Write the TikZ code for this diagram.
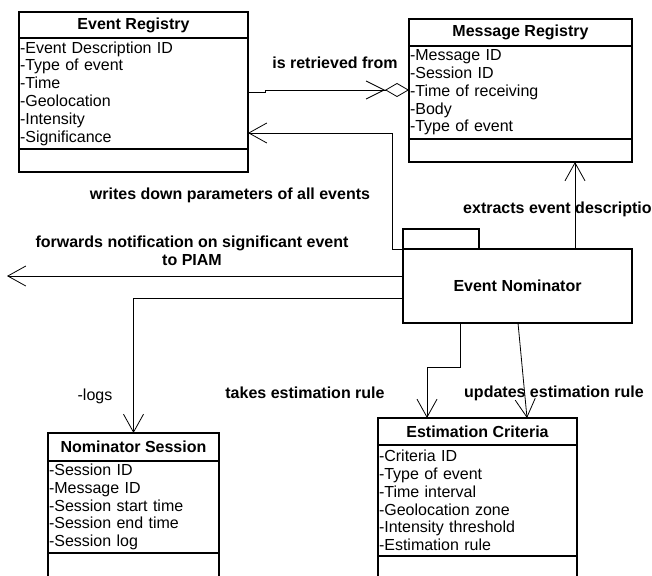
\documentclass[tikz,border=0pt]{standalone}
\usepackage{fontspec}
\setmainfont{Liberation Sans}
\usetikzlibrary{arrows.meta}

\tikzset{
	classhead/.style={draw, line width=1.2pt, anchor=north west, inner sep=0pt, outer sep=0pt, font=\fontsize{16}{17.8}\selectfont\bfseries},
	classbody/.style={draw, line width=1.2pt, anchor=north west, inner xsep=1pt, inner ysep=0pt, outer sep=0pt, align=left, font=\fontsize{16}{17.8}\selectfont},
	assoc/.style={line width=0.8pt, -{Straight Barb[length=18pt, width=20pt]}},
	lbl/.style={font=\fontsize{16}{17.8}\selectfont\bfseries, inner sep=0pt}
}

\begin{document}
\begin{tikzpicture}[x=1pt, y=-1pt]
		\clip (0,0) rectangle (652,575);

		% registries
		\node (erHead)[classhead, minimum width=229pt, minimum height=26pt] at (19,12) {Event Registry};
		\node (erAttr)[classbody, text width=227pt, minimum height=111pt] at (erHead.south west) {-Event Description ID\\-Type of event\\-Time\\-Geolocation\\-Intensity\\-Significance};
		\node (erOps)[classbody, minimum width=229pt, minimum height=23pt] at (erAttr.south west) {};

		\node (mrHead)[classhead, minimum width=223pt, minimum height=27pt] at (409,19) {Message Registry};
		\node (mrAttr)[classbody, text width=221pt, minimum height=93pt] at (mrHead.south west) {-Message ID\\-Session ID\\-Time of receiving\\-Body\\-Type of event};
		\node (mrOps)[classbody, minimum width=223pt, minimum height=23pt] at (mrAttr.south west) {};

		% nominator
		\node (enBox)[classhead, minimum width=229pt, minimum height=74pt, anchor=center] at (517.5,286) {Event Nominator};
		\node (enTab)[classhead, minimum width=76pt, minimum height=20pt, anchor=south west] at (enBox.north west) {};

		\node (nsHead)[classhead, minimum width=171pt, minimum height=28pt] at (48,433) {Nominator Session};
		\node (nsAttr)[classbody, text width=169pt, minimum height=92pt] at (nsHead.south west) {-Session ID\\-Message ID\\-Session start time\\-Session end time\\-Session log};
		\node (nsOps)[classbody, minimum width=171pt, minimum height=30pt] at (nsAttr.south west) {};

		\node (ecHead)[classhead, minimum width=199pt, minimum height=27pt] at (378,418) {Estimation Criteria};
		\node (ecAttr)[classbody, text width=197pt, minimum height=111pt] at (ecHead.south west) {-Criteria ID\\-Type of event\\-Time interval\\-Geolocation zone\\-Intensity threshold\\-Estimation rule};
		\node (ecOps)[classbody, minimum width=199pt, minimum height=30pt] at (ecAttr.south west) {};

		\coordinate (piam) at (7,276);

		% connectors
		\draw[line width=0.8pt, -{Straight Barb[length=18pt, width=18pt] Diamond[open, length=24pt, width=14pt]}] (erAttr.east |- 0,92) -- (265,92) -- (265,90) -- (mrAttr.west |- 0,90);
		\draw[assoc] (enBox.north west) -- ++(-11,0) |- (erAttr.east |- 0,133);
		\draw[assoc] ([xshift=57.5pt]enBox.north) -- ([xshift=57.5pt]enBox.north |- mrOps.south);
		\draw[assoc] ([yshift=10pt]enBox.west) -- (piam);
		\draw[assoc] ([yshift=-12pt]enBox.west) -| (nsHead.north);
		\draw[assoc] ([xshift=-57.5pt]enBox.south) -- ++(0,44) -| ([xshift=-50.5pt]ecHead.north);
		\draw[assoc] ([xshift=0.5pt]enBox.south) -- ([xshift=49.5pt]ecHead.north);

		% labels
		\node (retrLabel)[lbl] at (335,63) {is retrieved from};
		\node (writeLabel)[lbl] at (230,195) {writes down parameters of all events};
		\node (extrLabel)[lbl, anchor=west] at (463,209) {extracts event description};
		\node (fwdLabel)[lbl, align=center] at (192,251) {forwards notification on significant event\\to PIAM};
		\node (logsLabel)[lbl, font=\fontsize{16}{17.8}\selectfont] at (95,396) {-logs};
		\node (takeLabel)[lbl] at (305,393) {takes estimation rule};
		\node (updLabel)[lbl] at (554,393) {updates estimation rule};
	\end{tikzpicture}
\end{document}
